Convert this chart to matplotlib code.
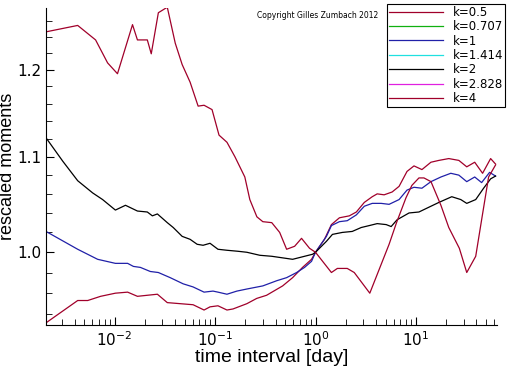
import numpy as np
import matplotlib
matplotlib.use("Agg")
import matplotlib.pyplot as plt
from matplotlib.ticker import FixedLocator, FixedFormatter, NullFormatter

# k=4 (starts high at small scales, dips at large scales)
t_k4 = [0.00208, 0.0043, 0.00648, 0.00853, 0.0107, 0.0151, 0.0169, 0.0212, 0.0232,
        0.0273, 0.0335, 0.0402, 0.0471, 0.0565, 0.0679, 0.0778, 0.0934, 0.1096,
        0.1315, 0.1578, 0.198, 0.222, 0.261, 0.299, 0.367, 0.440, 0.516, 0.620,
        0.726, 0.872, 1.0, 1.44, 1.65, 2.07, 2.43, 3.47, 5.40, 6.4, 7.96, 9.1,
        10.7, 12.0, 14.1, 17.7, 21.2, 27.0, 32.0, 39.3, 45.0, 52.8, 61.9]
m_k4 = [1.246, 1.254, 1.236, 1.208, 1.195, 1.255, 1.236, 1.236, 1.219,
        1.270, 1.277, 1.232, 1.206, 1.185, 1.157, 1.158, 1.153, 1.124,
        1.116, 1.100, 1.078, 1.054, 1.036, 1.031, 1.030, 1.020, 1.003, 1.006,
        1.014, 1.004, 1.000, 0.980, 0.984, 0.984, 0.980, 0.960, 1.008, 1.030, 1.056, 1.069,
        1.077, 1.077, 1.073, 1.048, 1.025, 1.004, 0.980, 0.996, 1.033, 1.078, 1.091]

# k=0.5
t_k05 = [0.00208, 0.0043, 0.00541, 0.00727, 0.0102, 0.0135, 0.0169, 0.0212, 0.0267,
         0.0335, 0.045, 0.0605, 0.0778, 0.0892, 0.107, 0.1315, 0.151, 0.2075, 0.26,
         0.326, 0.471, 0.592, 0.743, 0.913, 1.0, 1.228, 1.44, 1.73, 2.17, 2.55,
         3.06, 3.67, 4.11, 4.82, 5.79, 6.79, 8.14, 9.55, 11.46, 14.08, 16.9,
         21.2, 26.7, 32.0, 38.4, 46.0, 55.3, 61.9]
m_k05 = [0.932, 0.953, 0.953, 0.957, 0.960, 0.961, 0.957, 0.958, 0.959,
         0.951, 0.950, 0.949, 0.944, 0.947, 0.948, 0.944, 0.945, 0.950, 0.955,
         0.958, 0.967, 0.975, 0.985, 0.993, 1.000, 1.013, 1.028, 1.035, 1.037, 1.041,
         1.051, 1.057, 1.060, 1.059, 1.062, 1.068, 1.084, 1.090, 1.086, 1.094, 1.096,
         1.098, 1.096, 1.089, 1.094, 1.082, 1.098, 1.092]

# k=1
t_k1 = [0.00208, 0.0043, 0.00679, 0.0102, 0.0135, 0.0154, 0.0181, 0.0227, 0.0273,
        0.0358, 0.0482, 0.0605, 0.0778, 0.0955, 0.107, 0.1315, 0.165, 0.2075, 0.299,
        0.411, 0.516, 0.649, 0.778, 0.913, 1.0, 1.285, 1.44, 1.73, 2.07, 2.55,
        3.06, 3.67, 4.5, 5.40, 6.79, 8.14, 9.55, 11.46, 14.08, 17.7, 22.2,
        26.7, 32.0, 38.4, 45.0, 54.0, 61.9]
m_k1 = [1.021, 1.003, 0.993, 0.989, 0.989, 0.986, 0.985, 0.981, 0.980,
        0.975, 0.969, 0.966, 0.961, 0.962, 0.961, 0.959, 0.962, 0.964, 0.967,
        0.972, 0.975, 0.980, 0.985, 0.991, 1.000, 1.016, 1.027, 1.031, 1.032, 1.038,
        1.047, 1.050, 1.050, 1.049, 1.054, 1.064, 1.067, 1.066, 1.073, 1.078, 1.082,
        1.080, 1.073, 1.078, 1.072, 1.083, 1.079]

# k=2
t_k2 = [0.00208, 0.00306, 0.0043, 0.00606, 0.00761, 0.0102, 0.01285, 0.0169, 0.0212,
        0.0238, 0.0267, 0.0335, 0.0384, 0.0471, 0.0565, 0.0664, 0.0761, 0.0892,
        0.107, 0.1315, 0.169, 0.2075, 0.279, 0.367, 0.592, 0.778, 0.934, 1.0,
        1.285, 1.474, 1.85, 2.32, 2.85, 3.43, 4.11, 5.05, 5.66, 6.49, 8.53, 10.7,
        13.45, 16.9, 22.7, 27.9, 32.0, 39.3, 47.1, 55.3, 61.9]
m_k2 = [1.121, 1.095, 1.074, 1.061, 1.054, 1.043, 1.048, 1.042, 1.041,
        1.037, 1.039, 1.030, 1.025, 1.016, 1.013, 1.008, 1.007, 1.009,
        1.003, 1.002, 1.001, 1.000, 0.997, 0.996, 0.993, 0.996, 0.998, 1.000,
        1.011, 1.018, 1.020, 1.021, 1.025, 1.027, 1.029, 1.028, 1.026, 1.033, 1.040, 1.041,
        1.046, 1.051, 1.057, 1.054, 1.050, 1.054, 1.066, 1.076, 1.079]

labels = ["k=0.5", "k=0.707", "k=1", "k=1.414", "k=2", "k=2.828", "k=4"]
colors = ["#a0002a", "#10b010", "#2020a8", "#20e0e0", "#000000", "#e020e0", "#a0002a"]
series_t = [t_k05, [], t_k1, [], t_k2, [], t_k4]
series_m = [m_k05, [], m_k1, [], m_k2, [], m_k4]

fig = plt.figure(figsize=(5.12, 3.66), dpi=100)
ax = fig.add_axes([46 / 512, 41 / 366, 451 / 512, 317 / 366])

for t, m, c, lab in zip(series_t, series_m, colors, labels):
    ax.plot(t, m, color=c, lw=0.9, label=lab)

ax.set_xscale("log")
ax.set_yscale("log")
ax.set_xlim(0.00208, 64)
ax.set_ylim(0.93, 1.276)

ax.yaxis.set_major_locator(FixedLocator([1.0, 1.1, 1.2]))
ax.yaxis.set_major_formatter(FixedFormatter(["1.0", "1.1", "1.2"]))
ax.yaxis.set_minor_locator(FixedLocator(np.arange(0.94, 1.27, 0.02)))
ax.yaxis.set_minor_formatter(NullFormatter())

ax.spines["top"].set_visible(False)
ax.spines["right"].set_visible(False)
ax.tick_params(which="both", direction="in", labelsize=11)
ax.tick_params(which="major", length=6)
ax.tick_params(which="minor", length=4)

ax.set_xlabel("time interval [day]", fontsize=14, family="Liberation Sans", labelpad=0)
ax.set_ylabel("rescaled moments", fontsize=13, family="Liberation Sans", labelpad=1)

fig.text(257 / 512, 1 - 16 / 366, "Copyright Gilles Zumbach 2012", fontsize=5.5, va="center")

leg = ax.legend(loc="upper right", bbox_to_anchor=(505 / 512, 1 - 4 / 366),
                bbox_transform=fig.transFigure, fontsize=8.5, frameon=True,
                fancybox=False, framealpha=1, edgecolor="black",
                labelspacing=0.12, handlelength=4.6, handletextpad=0.8,
                borderpad=0.15, borderaxespad=0)
leg.get_frame().set_linewidth(0.8)

fig.savefig("out.png", dpi=100)
